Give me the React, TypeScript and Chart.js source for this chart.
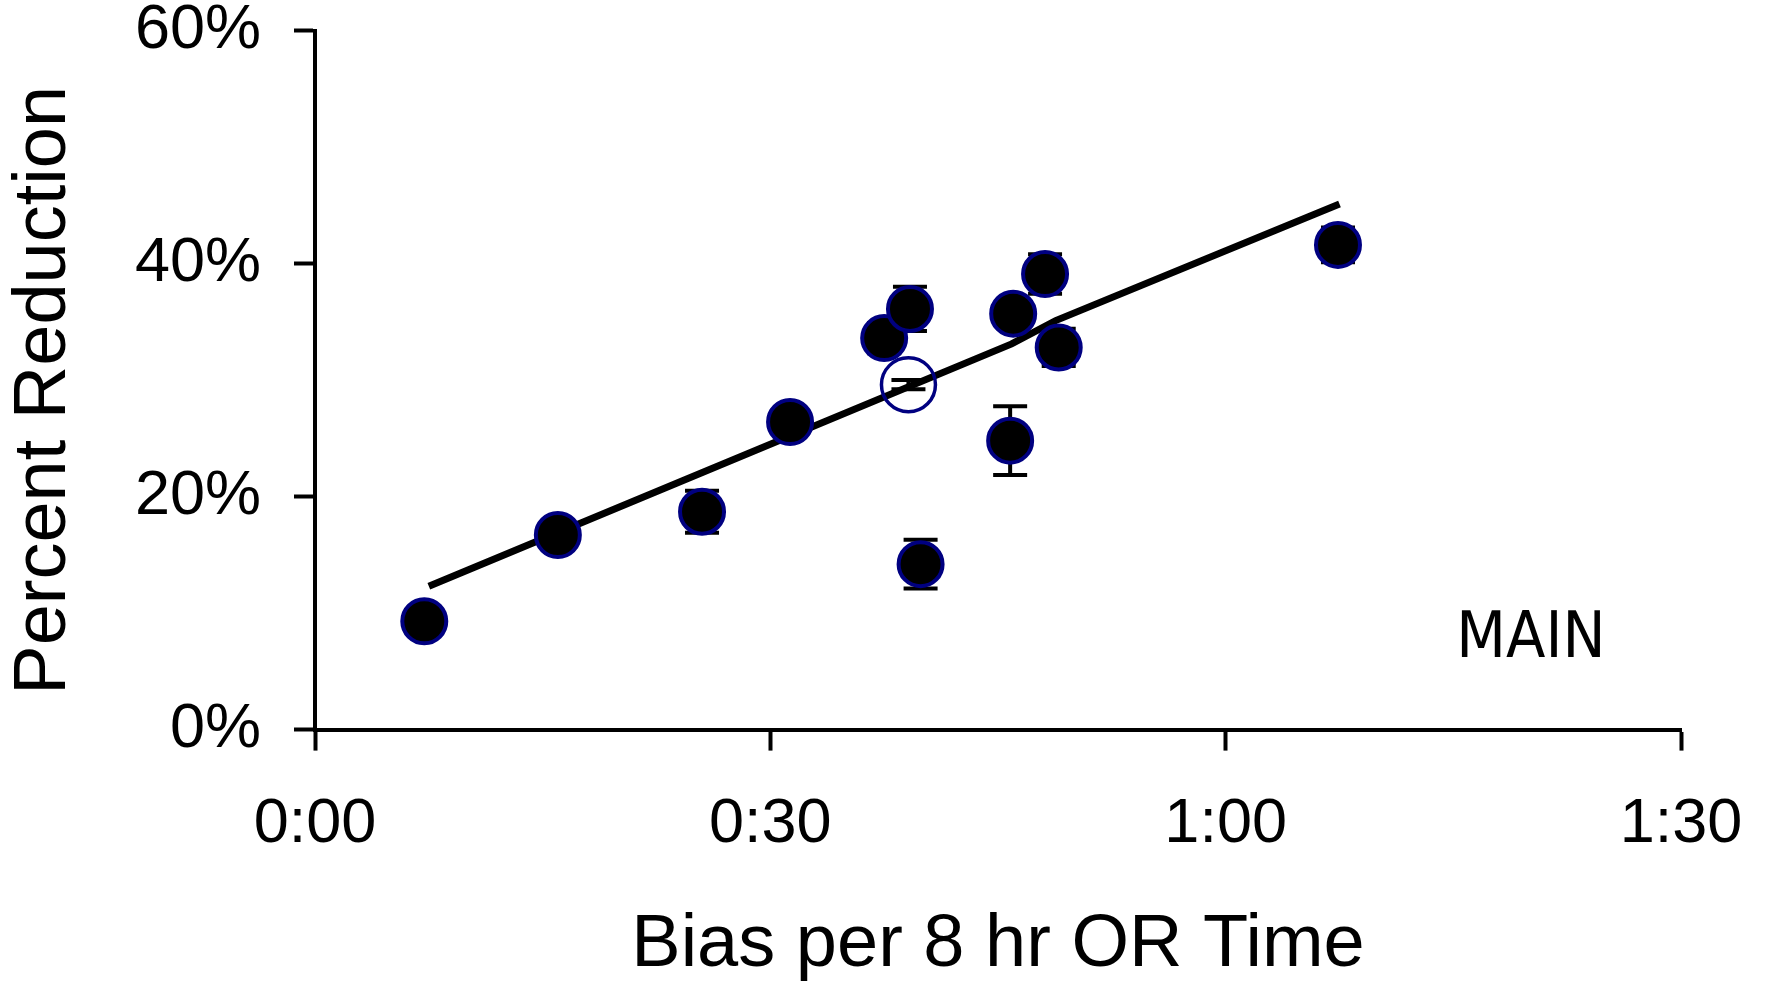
import React, { useEffect, useRef } from 'react';
import { Chart, registerables } from 'chart.js';

Chart.register(...registerables);

// Filled (closed) points: x in minutes, y in percent, symmetric error in percent
const filledX = [7.2, 16.0, 25.5, 31.3, 37.5, 39.2, 39.9, 45.8, 46.0, 48.1, 49.0, 67.4];
const filledY = [9.3, 16.7, 18.7, 26.4, 33.6, 36.1, 14.2, 24.8, 35.7, 39.1, 32.8, 41.6];
const filledErr = [0, 0, 1.8, 0, 1.3, 1.9, 2.1, 2.95, 1.0, 1.7, 1.6, 1.5];

// Open point
const openX = [39.1];
const openY = [29.6];
const openErr = [0.4];

// Trend line
const trendX = [7.5, 25.6, 45.9, 48.8, 67.5];
const trendY = [12.3, 22.1, 33.1, 35.1, 45.1];

// Ticks
const xTickValues = [0, 30, 60, 90];
const xTickLabels = ['0:00', '0:30', '1:00', '1:30'];
const yTickValues = [0, 20, 40, 60];
const yTickLabels = ['0%', '20%', '40%', '60%'];

// Annotation
const annotationText = 'MAIN';
const annotationX = 75.2;
const annotationY = 6.25;

const xTitle = 'Bias per 8 hr OR Time';
const yTitle = 'Percent Reduction ';

const FONT = '"Liberation Sans", Arial, Helvetica, sans-serif';

const errorBarPlugin = {
  id: 'errorBars',
  beforeDatasetsDraw(chart: any) {
    const { ctx, scales } = chart;
    const xs = scales.x;
    const ys = scales.y;
    ctx.save();
    ctx.strokeStyle = '#000';
    ctx.lineWidth = 4;
    ctx.lineCap = 'butt';
    const draw = (xv: number[], yv: number[], ev: number[]) => {
      xv.forEach((x, i) => {
        const e = ev[i];
        if (!e) return;
        const px = xs.getPixelForValue(x);
        const top = ys.getPixelForValue(yv[i] + e);
        const bot = ys.getPixelForValue(yv[i] - e);
        ctx.beginPath();
        ctx.moveTo(px, top);
        ctx.lineTo(px, bot);
        ctx.moveTo(px - 17, top);
        ctx.lineTo(px + 17, top);
        ctx.moveTo(px - 17, bot);
        ctx.lineTo(px + 17, bot);
        ctx.stroke();
      });
    };
    draw(filledX, filledY, filledErr);
    draw(openX, openY, openErr);
    ctx.restore();
  },
};

const annotationPlugin = {
  id: 'mainLabel',
  afterDraw(chart: any) {
    const { ctx, scales } = chart;
    ctx.save();
    ctx.fillStyle = '#000';
    ctx.font = '64px "DejaVu Sans Condensed", "DejaVu Sans", sans-serif';
    ctx.textAlign = 'left';
    ctx.textBaseline = 'alphabetic';
    ctx.fillText(
      annotationText,
      scales.x.getPixelForValue(annotationX),
      scales.y.getPixelForValue(annotationY)
    );
    ctx.restore();
  },
};

export default function App() {
  const ref = useRef<HTMLCanvasElement | null>(null);

  useEffect(() => {
    if (!ref.current) return;
    const chart = new Chart(ref.current, {
      type: 'scatter',
      data: {
        datasets: [
          {
            label: 'filled',
            data: filledX.map((x, i) => ({ x, y: filledY[i] })),
            backgroundColor: '#000',
            borderColor: '#000080',
            borderWidth: 4,
            pointRadius: 22,
            pointHoverRadius: 22,
            order: 0,
          },
          {
            label: 'open',
            data: openX.map((x, i) => ({ x, y: openY[i] })),
            backgroundColor: 'rgba(0,0,0,0)',
            borderColor: '#000080',
            borderWidth: 3.5,
            pointRadius: 27,
            pointHoverRadius: 27,
            order: 1,
          },
          {
            label: 'trend',
            data: trendX.map((x, i) => ({ x, y: trendY[i] })),
            showLine: true,
            borderColor: '#000',
            backgroundColor: '#000',
            borderWidth: 7,
            pointRadius: 0,
            tension: 0,
            order: 2,
          } as any,
        ],
      },
      options: {
        responsive: false,
        animation: false,
        devicePixelRatio: 1,
        layout: { padding: { top: 30, right: 87, left: 0, bottom: 0 } },
        plugins: {
          legend: { display: false },
          tooltip: { enabled: false },
        },
        scales: {
          x: {
            type: 'linear',
            min: 0,
            max: 90,
            afterBuildTicks: (s: any) => {
              s.ticks = xTickValues.map((v) => ({ value: v }));
            },
            afterFit: (s: any) => {
              s.height = 256.4;
              s.paddingLeft = 0;
              s.paddingRight = 0;
            },
            ticks: {
              callback: (v: any) => xTickLabels[xTickValues.indexOf(Number(v))],
              font: { family: FONT, size: 63 },
              color: '#000',
              padding: 36,
              maxRotation: 0,
              autoSkip: false,
            },
            grid: {
              display: true,
              drawOnChartArea: false,
              drawTicks: true,
              tickLength: 21,
              tickWidth: 4,
              tickColor: '#000',
            },
            border: { display: true, color: '#000', width: 4 },
            title: {
              display: true,
              text: xTitle,
              color: '#000',
              font: { family: FONT, size: 74, lineHeight: 1.1 },
              padding: 0,
            },
          },
          y: {
            type: 'linear',
            min: 0,
            max: 60,
            afterBuildTicks: (s: any) => {
              s.ticks = yTickValues.map((v) => ({ value: v }));
            },
            afterFit: (s: any) => {
              s.width = 315;
              s.paddingTop = 0;
              s.paddingBottom = 0;
            },
            ticks: {
              callback: (v: any) => yTickLabels[yTickValues.indexOf(Number(v))],
              font: { family: FONT, size: 63 },
              color: '#000',
              padding: 33,
              autoSkip: false,
            },
            grid: {
              display: true,
              drawOnChartArea: false,
              drawTicks: true,
              tickLength: 21,
              tickWidth: 4,
              tickColor: '#000',
            },
            border: { display: true, color: '#000', width: 4 },
            title: {
              display: true,
              text: yTitle,
              color: '#000',
              font: { family: FONT, size: 74, lineHeight: 1.2 },
              padding: 0,
            },
          },
        },
      } as any,
      plugins: [errorBarPlugin, annotationPlugin],
    });
    return () => chart.destroy();
  }, []);

  return (
    <div style={{ position: 'absolute', left: 0, top: 0, width: 1768, height: 986, background: '#fff' }}>
      <canvas ref={ref} width={1768} height={986} style={{ width: 1768, height: 986, display: 'block' }} />
    </div>
  );
}
